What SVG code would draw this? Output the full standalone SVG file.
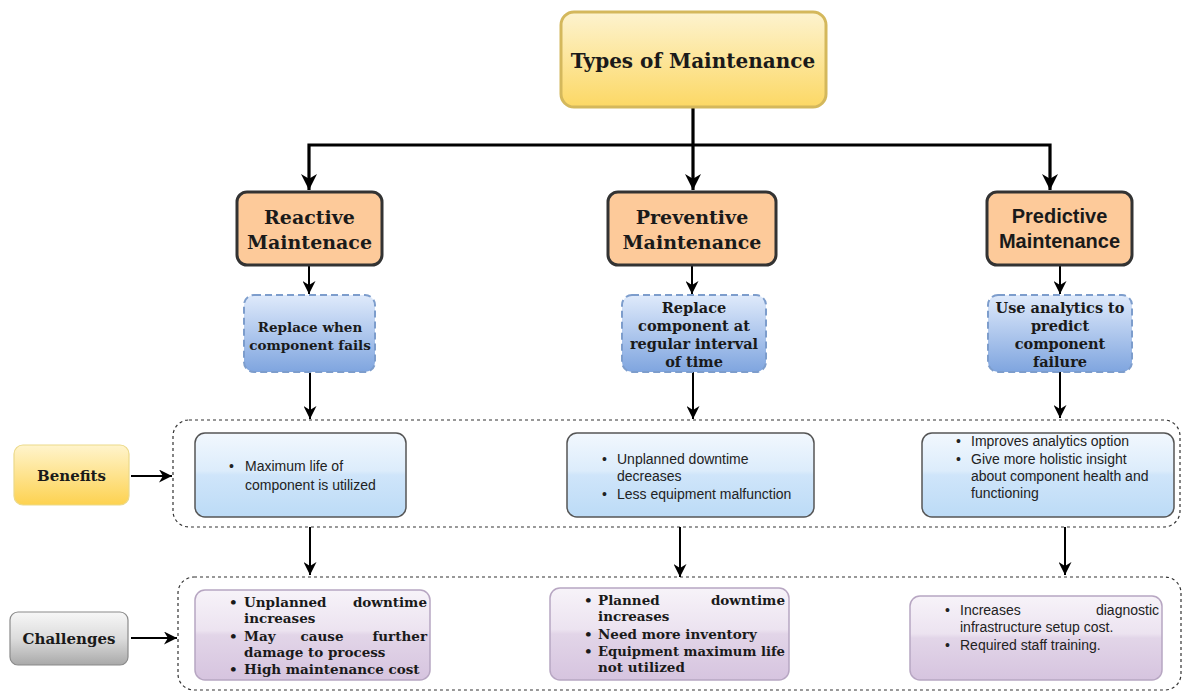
<svg xmlns="http://www.w3.org/2000/svg" width="1184" height="695" viewBox="0 0 1184 695">
  <defs>
    <linearGradient id="gYellow" x1="0" y1="0" x2="0" y2="1">
      <stop offset="0" stop-color="#fdf3cf"/>
      <stop offset="1" stop-color="#fcd865"/>
    </linearGradient>
    <linearGradient id="gLabelYellow" x1="0" y1="0" x2="0" y2="1">
      <stop offset="0" stop-color="#fff4cc"/>
      <stop offset="1" stop-color="#fdd250"/>
    </linearGradient>
    <linearGradient id="gGray" x1="0" y1="0" x2="0" y2="1">
      <stop offset="0" stop-color="#f7f7f7"/>
      <stop offset="0.5" stop-color="#dcdcdc"/>
      <stop offset="1" stop-color="#a9a9a9"/>
    </linearGradient>
    <linearGradient id="gBlueStep" x1="0" y1="0" x2="0" y2="1">
      <stop offset="0" stop-color="#dfeafb"/>
      <stop offset="1" stop-color="#7fa5df"/>
    </linearGradient>
    <linearGradient id="gBenefit" x1="0" y1="0" x2="0" y2="1">
      <stop offset="0" stop-color="#f2f8fe"/>
      <stop offset="0.45" stop-color="#dcecfb"/>
      <stop offset="0.5" stop-color="#cfe5fa"/>
      <stop offset="1" stop-color="#bcdbf6"/>
    </linearGradient>
    <linearGradient id="gChallenge" x1="0" y1="0" x2="0" y2="1">
      <stop offset="0" stop-color="#f7f3f9"/>
      <stop offset="0.45" stop-color="#ece3f0"/>
      <stop offset="0.5" stop-color="#e2d5e8"/>
      <stop offset="1" stop-color="#d6c4df"/>
    </linearGradient>
    <marker id="arrow" viewBox="0 0 10 10" refX="10" refY="5" markerWidth="13" markerHeight="13" markerUnits="userSpaceOnUse" orient="auto">
      <path d="M0,0 L10,5 L0,10 L3,5 Z" fill="#000"/>
    </marker>
    <marker id="arrowBig" viewBox="0 0 10 10" refX="10" refY="5" markerWidth="16" markerHeight="16" markerUnits="userSpaceOnUse" orient="auto">
      <path d="M0,0 L10,5 L0,10 L3,5 Z" fill="#000"/>
    </marker>
  </defs>
  <style>
    .serif { font-family: "DejaVu Serif", "Liberation Serif", serif; font-weight: bold; fill: #1a1a1a; }
    .sans { font-family: "Liberation Sans", Arial, sans-serif; fill: #222; }
    .sansb { font-family: "Liberation Sans", Arial, sans-serif; font-weight: bold; fill: #1a1a1a; }
    .type { fill: #fdca9a; stroke: #333; stroke-width: 3; }
    .step { fill: url(#gBlueStep); stroke: #7d9dcc; stroke-width: 2; stroke-dasharray: 7 4; }
    .benefit { fill: url(#gBenefit); stroke: #555; stroke-width: 1.5; }
    .challenge { fill: url(#gChallenge); stroke: #b7a6c2; stroke-width: 1.5; }
    .group { fill: none; stroke: #333; stroke-width: 1.2; stroke-dasharray: 3 3; }
    .link { fill: none; stroke: #000; stroke-width: 2; marker-end: url(#arrow); }
    .trunkArrow { fill: none; stroke: #000; stroke-width: 3.2; marker-end: url(#arrowBig); }
  </style>

  <rect width="1184" height="695" fill="#fff"/>

  <!-- dotted group frames -->
  <g id="benefits-frame">
    <rect class="group" x="173" y="420" width="1007" height="107" rx="16"/>
  </g>
  <g id="challenges-frame">
    <rect class="group" x="178" y="577" width="1003" height="113" rx="16"/>
  </g>

  <!-- connectors -->
  <g id="connectors">
    <path class="trunkArrow" d="M693,107 V190"/>
    <path class="trunkArrow" d="M693,145 H309 V190"/>
    <path class="trunkArrow" d="M693,145 H1050 V190"/>
    <path class="link" d="M309,265 V294"/>
    <path class="link" d="M692,265 V294"/>
    <path class="link" d="M1060,265 V294"/>
    <path class="link" d="M310,372 V419"/>
    <path class="link" d="M693,372 V419"/>
    <path class="link" d="M1060,372 V418"/>
    <path class="link" d="M310,527 V575"/>
    <path class="link" d="M680,527 V577"/>
    <path class="link" d="M1065,527 V575"/>
    <path class="link" d="M131,476 H172"/>
    <path class="link" d="M131,638 H177"/>
  </g>

  <!-- root -->
  <g id="types-of-maintenance">
    <rect x="561" y="12" width="265" height="95" rx="13" fill="url(#gYellow)" stroke="#d4b85c" stroke-width="3"/>
    <text class="serif" x="693" y="68" font-size="20" text-anchor="middle">Types of Maintenance</text>
  </g>

  <!-- maintenance types -->
  <g id="reactive">
    <rect class="type" x="237" y="192" width="145" height="73" rx="10"/>
    <text class="serif" x="309.5" y="224" font-size="19" text-anchor="middle">Reactive</text>
    <text class="serif" x="309.5" y="249" font-size="19" text-anchor="middle">Maintenace</text>
  </g>
  <g id="preventive">
    <rect class="type" x="608" y="192" width="168" height="73" rx="10"/>
    <text class="serif" x="692" y="224" font-size="19" text-anchor="middle">Preventive</text>
    <text class="serif" x="692" y="249" font-size="19" text-anchor="middle">Maintenance</text>
  </g>
  <g id="predictive">
    <rect class="type" x="987" y="192" width="145" height="73" rx="10"/>
    <text class="sansb" x="1059.5" y="223" font-size="20" text-anchor="middle">Predictive</text>
    <text class="sansb" x="1059.5" y="248" font-size="20" text-anchor="middle">Maintenance</text>
  </g>

  <!-- strategy descriptions -->
  <g id="reactive-step">
    <rect class="step" x="244" y="295" width="131" height="77" rx="10"/>
    <text class="serif" x="310" y="332" font-size="13.5" text-anchor="middle">Replace when</text>
    <text class="serif" x="310" y="350" font-size="13.5" text-anchor="middle">component fails</text>
  </g>
  <g id="preventive-step">
    <rect class="step" x="622" y="295" width="144" height="77" rx="10"/>
    <text class="serif" x="694" y="313" font-size="14.5" text-anchor="middle">Replace</text>
    <text class="serif" x="694" y="331" font-size="14.5" text-anchor="middle">component at</text>
    <text class="serif" x="694" y="349" font-size="14.5" text-anchor="middle">regular interval</text>
    <text class="serif" x="694" y="367" font-size="14.5" text-anchor="middle">of time</text>
  </g>
  <g id="predictive-step">
    <rect class="step" x="988" y="295" width="144" height="77" rx="10"/>
    <text class="serif" x="1060" y="313" font-size="14.5" text-anchor="middle">Use analytics to</text>
    <text class="serif" x="1060" y="331" font-size="14.5" text-anchor="middle">predict</text>
    <text class="serif" x="1060" y="349" font-size="14.5" text-anchor="middle">component</text>
    <text class="serif" x="1060" y="367" font-size="14.5" text-anchor="middle">failure</text>
  </g>

  <!-- row labels -->
  <g id="benefits-label">
    <rect x="14" y="445" width="115" height="60" rx="9" fill="url(#gLabelYellow)" stroke="#ecd98a" stroke-width="1.2"/>
    <text class="serif" x="71.5" y="481" font-size="15" text-anchor="middle">Benefits</text>
  </g>
  <g id="challenges-label">
    <rect x="10" y="612" width="118" height="53" rx="8" fill="url(#gGray)" stroke="#8a8a8a" stroke-width="1.2"/>
    <text class="serif" x="69" y="644" font-size="15" text-anchor="middle">Challenges</text>
  </g>

  <!-- benefits -->
  <g id="reactive-benefits">
    <rect class="benefit" x="195" y="433" width="211" height="84" rx="10"/>
    <text class="sans" font-size="14"><tspan x="229" y="471">•</tspan><tspan x="245" y="471">Maximum life of</tspan><tspan x="245" y="490">component is utilized</tspan></text>
  </g>
  <g id="preventive-benefits">
    <rect class="benefit" x="567" y="433" width="247" height="84" rx="10"/>
    <text class="sans" font-size="14"><tspan x="602" y="464">•</tspan><tspan x="617" y="464">Unplanned downtime</tspan><tspan x="617" y="481">decreases</tspan><tspan x="602" y="499">•</tspan><tspan x="617" y="499">Less equipment malfunction</tspan></text>
  </g>
  <g id="predictive-benefits">
    <rect class="benefit" x="922" y="433" width="252" height="84" rx="10"/>
    <text class="sans" font-size="14"><tspan x="956" y="446">•</tspan><tspan x="971" y="446">Improves analytics option</tspan><tspan x="956" y="464">•</tspan><tspan x="971" y="464">Give more holistic  insight</tspan><tspan x="971" y="481">about component health and</tspan><tspan x="971" y="498">functioning</tspan></text>
  </g>

  <!-- challenges -->
  <g id="reactive-challenges">
    <rect class="challenge" x="195" y="590" width="235" height="90" rx="10"/>
    <g class="serif" font-size="13.5">
      <text x="229" y="607">•</text>
      <text x="244" y="607">Unplanned</text>
      <text x="427" y="607" text-anchor="end">downtime</text>
      <text x="244" y="623">increases</text>
      <text x="229" y="641">•</text>
      <text x="244" y="641">May</text>
      <text x="322" y="641" text-anchor="middle">cause</text>
      <text x="427" y="641" text-anchor="end">further</text>
      <text x="244" y="657">damage to process</text>
      <text x="229" y="674">•</text>
      <text x="244" y="674">High maintenance cost</text>
    </g>
  </g>
  <g id="preventive-challenges">
    <rect class="challenge" x="550" y="588" width="239" height="92" rx="10"/>
    <g class="serif" font-size="13.5">
      <text x="584" y="605">•</text>
      <text x="598" y="605">Planned</text>
      <text x="785" y="605" text-anchor="end">downtime</text>
      <text x="598" y="621">increases</text>
      <text x="584" y="639">•</text>
      <text x="598" y="639">Need more inventory</text>
      <text x="584" y="656">•</text>
      <text x="598" y="656" textLength="187" lengthAdjust="spacingAndGlyphs">Equipment maximum life</text>
      <text x="598" y="672">not utilized</text>
    </g>
  </g>
  <g id="predictive-challenges">
    <rect class="challenge" x="910" y="596" width="252" height="84" rx="10"/>
    <g class="sans" font-size="14">
      <text x="945" y="615">•</text>
      <text x="960" y="615">Increases</text>
      <text x="1159" y="615" text-anchor="end">diagnostic</text>
      <text x="960" y="632">infrastructure setup cost.</text>
      <text x="945" y="650">•</text>
      <text x="960" y="650">Required staff training.</text>
    </g>
  </g>
</svg>
